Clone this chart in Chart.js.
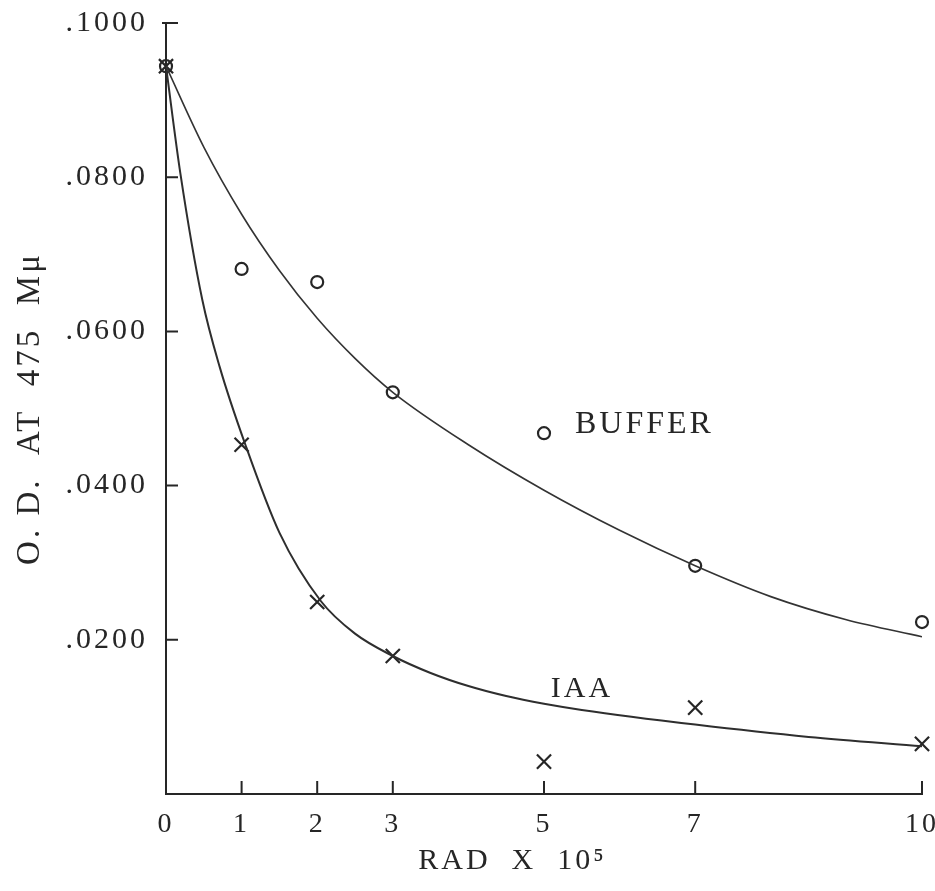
<!DOCTYPE html>
<html>
<head>
<meta charset="utf-8">
<script src="https://cdn.jsdelivr.net/npm/chart.js"></script>
<style>
  html, body { margin: 0; padding: 0; background: #fff; }
  #wrap { width: 935px; height: 891px; position: relative; }
</style>
</head>
<body>
<div id="wrap"><canvas id="odChart"></canvas></div>
<script>
// dose in units of 10^5 rad
var doses = [0, 1, 2, 3, 5, 7, 10];
var bufferOD = [0.0944, 0.0681, 0.0664, 0.0521, 0.0468, 0.0296, 0.0223];
var iaaOD = [0.0944, 0.0453, 0.0249, 0.0179, 0.0042, 0.0112, 0.0065];

// the hand drawn curves
var bufferCurveDose = [0, 0.5, 1, 1.5, 2, 2.5, 3, 4, 5, 6, 7, 8, 9, 10];
var bufferCurveOD = [0.0944, 0.0839, 0.0752, 0.0679, 0.0617, 0.0565, 0.0521, 0.0453, 0.0394, 0.0342, 0.0296, 0.0256, 0.0226, 0.0204];
var iaaCurveDose = [0, 0.19, 0.48, 0.71, 1.05, 1.5, 2.05, 2.5, 3, 3.5, 4, 4.5, 5, 5.5, 7, 8.5, 10];
var iaaCurveOD = [0.0944, 0.0805, 0.0641, 0.0554, 0.0453, 0.0339, 0.0250, 0.0208, 0.0179, 0.0157, 0.0140, 0.0127, 0.0117, 0.0109, 0.0090, 0.0074, 0.0062];

var xTickValues = [0, 1, 2, 3, 5, 7, 10];
var yTickValues = [0.02, 0.04, 0.06, 0.08, 0.10];

var ink = '#262626';
var serif = '"Liberation Serif", "Times New Roman", serif';

function toPoints(xs, ys) {
  return xs.map(function(x, i) { return { x: x, y: ys[i] }; });
}

// tick marks pointing into the plot, plus the two curve labels
var paperTicks = {
  id: 'paperTicks',
  beforeDraw: function(chart) {
    chart.ctx.letterSpacing = '3px';
  },
  afterDraw: function(chart) {
    var ctx = chart.ctx, xs = chart.scales.x, ys = chart.scales.y;
    ctx.save();
    ctx.strokeStyle = ink;
    ctx.lineWidth = 2;
    ctx.beginPath();
    yTickValues.forEach(function(v) {
      var py = ys.getPixelForValue(v);
      ctx.moveTo(xs.left - (v >= 0.1 ? 4 : 0), py);
      ctx.lineTo(xs.left + 12, py);
    });
    xTickValues.forEach(function(v) {
      if (v === 0) return;
      var px = xs.getPixelForValue(v);
      ctx.moveTo(px, ys.bottom);
      ctx.lineTo(px, ys.bottom - 13);
    });
    ctx.stroke();

    ctx.fillStyle = ink;
    ctx.textAlign = 'left';
    ctx.textBaseline = 'middle';
    ctx.font = '32px ' + serif;
    ctx.fillText('BUFFER', xs.getPixelForValue(5.41), ys.getPixelForValue(0.0479));
    ctx.font = '30px ' + serif;
    ctx.fillText('IAA', xs.getPixelForValue(5.09), ys.getPixelForValue(0.0136));
    ctx.restore();
  }
};

var ctx = document.getElementById('odChart').getContext('2d');
var odChart = new Chart(ctx, {
  type: 'scatter',
  data: {
    datasets: [
      {
        label: 'Buffer curve',
        data: toPoints(bufferCurveDose, bufferCurveOD),
        showLine: true,
        borderColor: '#333',
        borderWidth: 1.6,
        pointRadius: 0,
        cubicInterpolationMode: 'monotone'
      },
      {
        label: 'IAA curve',
        data: toPoints(iaaCurveDose, iaaCurveOD),
        showLine: true,
        borderColor: '#2e2e2e',
        borderWidth: 2,
        pointRadius: 0,
        cubicInterpolationMode: 'monotone'
      },
      {
        label: 'BUFFER',
        data: toPoints(doses, bufferOD),
        pointStyle: 'circle',
        pointRadius: 6,
        borderWidth: 2.2,
        borderColor: ink,
        backgroundColor: 'rgba(0,0,0,0)',
        clip: false
      },
      {
        label: 'IAA',
        data: toPoints(doses, iaaOD),
        pointStyle: 'crossRot',
        pointRadius: 10,
        borderWidth: 2.2,
        borderColor: ink,
        clip: false
      }
    ]
  },
  options: {
    responsive: true,
    maintainAspectRatio: false,
    animation: false,
    layout: { padding: { top: 23, right: 13, left: 0, bottom: 0 } },
    plugins: {
      legend: { display: false },
      tooltip: { enabled: false }
    },
    scales: {
      x: {
        type: 'linear',
        min: 0,
        max: 10,
        grid: { display: false },
        border: { display: true, color: ink, width: 2 },
        afterBuildTicks: function(scale) {
          scale.ticks = xTickValues.map(function(v) { return { value: v }; });
        },
        afterFit: function(scale) {
          scale.height = 97;
          scale.paddingLeft = 0;
          scale.paddingRight = 0;
        },
        ticks: {
          color: ink,
          padding: 6,
          maxRotation: 0,
          font: { family: serif, size: 28 },
          callback: function(v) { return String(v); }
        },
        title: {
          display: true,
          // trailing spaces pull the centred title a little left, as in the original
          text: 'RAD  X  10⁵      ',
          color: ink,
          font: { family: serif, size: 30 },
          padding: { top: 0, bottom: 12 }
        }
      },
      y: {
        type: 'linear',
        min: 0,
        max: 0.1,
        grid: { display: false },
        border: { display: true, color: ink, width: 2 },
        afterBuildTicks: function(scale) {
          scale.ticks = yTickValues.map(function(v) { return { value: v }; });
        },
        afterFit: function(scale) {
          scale.width = 166;
          scale.paddingTop = 0;
          scale.paddingBottom = 0;
        },
        ticks: {
          color: ink,
          padding: 10,
          font: { family: serif, size: 30 },
          callback: function(v) {
            return '.' + String(Math.round(v * 10000)).padStart(4, '0');
          }
        },
        title: {
          display: true,
          text: 'O. D.  AT  475  Mμ',
          color: ink,
          font: { family: serif, size: 33 },
          padding: { top: 11, bottom: 0 }
        }
      }
    }
  },
  plugins: [paperTicks]
});
</script>
</body>
</html>
